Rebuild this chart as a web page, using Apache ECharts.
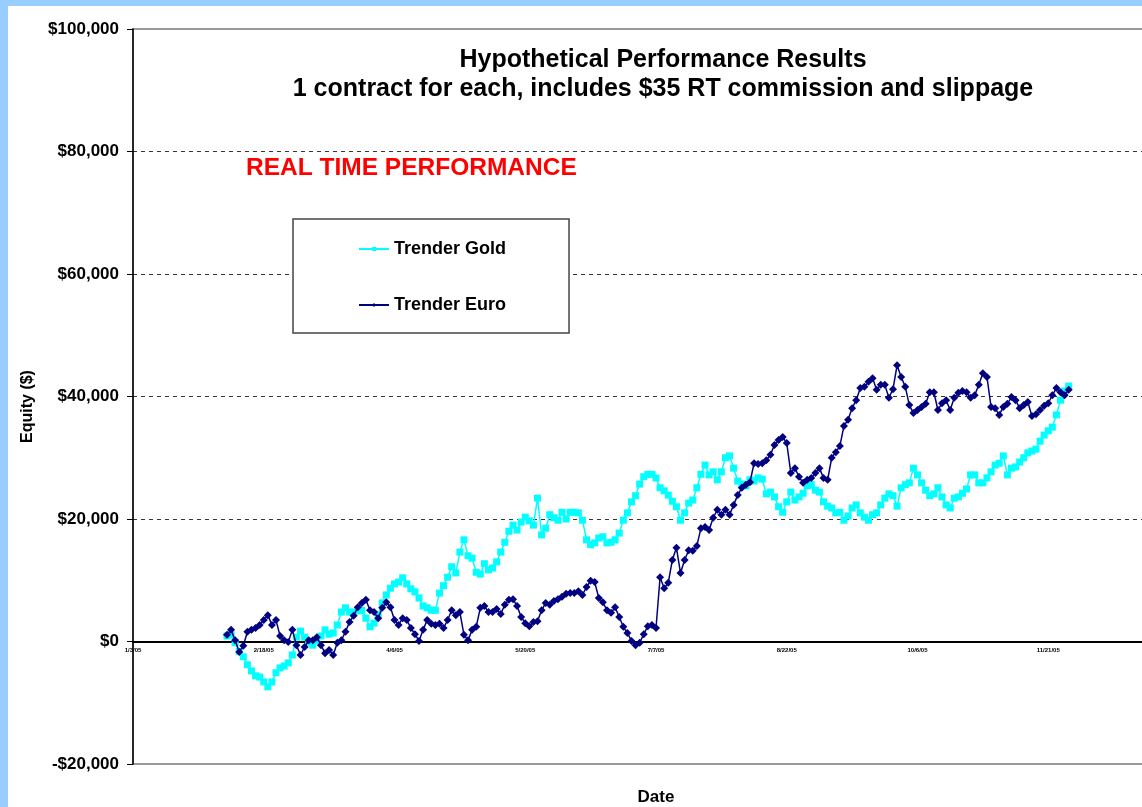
<!DOCTYPE html>
<html>
<head>
<meta charset="utf-8">
<title>Hypothetical Performance Results</title>
<script src="https://cdn.jsdelivr.net/npm/echarts@6/dist/echarts.min.js"></script>
<style>
	html,body{margin:0;padding:0;background:#99ccff;width:1142px;height:807px;overflow:hidden;}
	#equityChart{position:absolute;left:8px;top:6px;width:1134px;height:801px;background:#fff;}
</style>
</head>
<body>
<div id="equityChart"></div>
<script>
	var FONT = "'Liberation Sans', Arial, sans-serif";

	// date ticks along the x axis (one every 32 trading days)
	var dateLabels = ['1/3/05','2/18/05','4/6/05','5/20/05','7/7/05','8/22/05','10/6/05','11/21/05','1/6/06'];
	var daysPerTick = 32;
	var firstDay = 23;

	// equity curves, one value per trading day ($)
	var goldEquity = [
		900,1100,-200,-1600,-2500,-3800,-4800,-5600,-5800,-6600,
		-7400,-6600,-5100,-4300,-4000,-3500,-2200,700,1700,700,
		-100,-600,100,900,1900,1200,1400,2700,4800,5500,
		4800,4800,5000,5100,3800,2400,3000,4300,6300,7600,
		8700,9400,9700,10400,9400,8600,8100,7100,5800,5500,
		5100,5100,7900,9100,10500,12200,11200,14600,16600,14000,
		13600,11300,11000,12700,11700,12000,13000,14600,16200,18000,
		19000,18200,19500,20300,19700,19000,23400,17400,18500,20700,
		20200,19800,21100,20000,21100,21100,21000,19800,16600,15800,
		16100,16900,17100,16100,16200,16600,17700,19800,21000,22800,
		23800,25700,26900,27300,27300,26700,25100,24600,23900,22900,
		22000,19800,21000,22600,23100,25100,27300,28800,27200,27700,
		26400,27700,30000,30300,28300,26200,25700,25400,26400,26200,
		26700,26500,24100,24400,23600,22000,21100,22800,24400,23100,
		23600,24200,25400,25600,24700,24400,22800,22100,21800,21000,
		21100,19800,20500,21800,22300,21000,20300,19800,20700,21000,
		22300,23400,24100,23800,22100,25100,25600,25900,28300,27200,
		25900,24700,23800,24100,25100,23600,22300,21800,23400,23600,
		24200,24900,27200,27200,25900,25900,26700,27700,28800,29100,
		30300,27200,28300,28500,29300,30000,30800,31100,31400,32700,
		33700,34400,35000,37000,39400,40900,41700
	];
	var euroEquity = [
		1100,1900,200,-1700,-700,1600,1900,2200,2700,3500,
		4300,2700,3500,900,200,-100,1900,-600,-2200,-900,
		200,200,700,-600,-1900,-1400,-2200,-200,200,1600,
		3200,4200,5600,6300,6800,5100,4800,3800,5500,6400,
		5600,3500,2700,3800,3500,2200,1200,100,1900,3500,
		2900,2700,2900,2200,3500,5100,4300,4800,1100,200,
		1900,2400,5500,5800,4800,4800,5300,4500,6000,6800,
		6900,5800,4000,3000,2500,3200,3300,5100,6300,6000,
		6600,6900,7300,7800,7900,7900,8200,7600,8900,9900,
		9700,7100,6400,5100,4700,5600,4000,2400,1400,100,
		-600,-200,1200,2500,2700,2200,10500,8700,9600,13300,
		15300,11200,13300,14900,14800,15600,18500,18700,18200,20200,
		21500,20700,21500,20700,22300,23900,25100,25600,26000,29100,
		29000,29100,29600,30500,32100,32900,33400,32400,27500,28300,
		26900,25900,26400,26700,27500,28300,26700,26400,30000,30900,
		31900,35200,36200,38100,39400,41400,41600,42400,43000,41100,
		41900,41900,39800,41200,45100,43200,41600,38600,37300,37800,
		38300,38800,40700,40700,37800,38900,39400,37800,39800,40600,
		40900,40700,39800,40200,41900,43800,43200,38300,38100,37000,
		38300,38800,39900,39400,38100,38600,39100,36800,37100,37800,
		38500,38900,40200,41400,40700,40200,41100
	];

/**
 * 把每日数值配上交易日序号
 */
function toPoints(values){
	var pts = [];
	for(var i = 0; i < values.length; i++){
		pts.push([firstDay + i, values[i]]);
	}
	return pts;
}

function money(v){
	var s = Math.abs(v).toString().replace(/\B(?=(\d{3})+(?!\d))/g, ',');
	return (v < 0 ? '-$' : '$') + s;
}

function drawEquity(){
	var option = {
		animation: false,
		backgroundColor: '#fff',
		textStyle: { fontFamily: FONT },
		graphic: [
			{
				type: 'text', x: 655, y: 54,
				style: { text: 'Hypothetical Performance Results', font: 'bold 25px ' + FONT,
					fill: '#000', textAlign: 'center', textVerticalAlign: 'middle' }
			},
			{
				type: 'text', x: 655, y: 83,
				style: { text: '1 contract for each, includes $35 RT commission and slippage', font: 'bold 25px ' + FONT,
					fill: '#000', textAlign: 'center', textVerticalAlign: 'middle' }
			},
			{
				type: 'text', x: 238, y: 162,
				style: { text: 'REAL TIME PERFORMANCE', font: 'bold 24.5px ' + FONT,
					fill: '#ff0000', textAlign: 'left', textVerticalAlign: 'middle' }
			}
		],
		legend: {
			orient: 'vertical',
			left: 285,
			top: 213,
			padding: [21, 63, 19, 65],
			itemGap: 38,
			itemWidth: 30,
			itemHeight: 5,
			backgroundColor: '#fff',
			borderColor: '#444',
			borderWidth: 1.5,
			textStyle: { fontSize: 18, fontWeight: 'bold', color: '#000', fontFamily: FONT },
			data: ['Trender Gold', 'Trender Euro']
		},
		grid: {
			left: 125,
			top: 23,
			right: -37,
			bottom: 43,
			outerBoundsMode: 'none',
			show: true,
			borderColor: '#999',
			borderWidth: 2
		},
		xAxis: {
			type: 'value',
			min: 0,
			max: daysPerTick * (dateLabels.length - 1),
			interval: daysPerTick,
			name: 'Date',
			nameLocation: 'middle',
			nameGap: 25,
			nameTextStyle: { fontSize: 17, fontWeight: 'bold', color: '#000', fontFamily: FONT },
			axisLine: { onZero: true, lineStyle: { color: '#000', width: 2 } },
			axisTick: { show: false },
			axisLabel: {
				fontSize: 6, fontWeight: 'bold', color: '#000', margin: -117,
				formatter: function(v){ return dateLabels[Math.round(v / daysPerTick)] || ''; }
			},
			splitLine: { show: false }
		},
		yAxis: {
			type: 'value',
			min: -20000,
			max: 100000,
			interval: 20000,
			name: 'Equity ($)',
			nameLocation: 'middle',
			nameGap: 97,
			nameTextStyle: { fontSize: 16, fontWeight: 'bold', color: '#000', fontFamily: FONT, padding: [0, 20, 0, 0] },
			axisLine: { show: true, lineStyle: { color: '#000', width: 1.5 } },
			axisTick: { show: true, length: 6, lineStyle: { color: '#000' } },
			axisLabel: { fontSize: 17, fontWeight: 'bold', color: '#000', margin: 14, formatter: money },
			splitLine: {
				show: true,
				showMinLine: false,
				showMaxLine: false,
				lineStyle: { color: '#333', type: [4, 4], width: 1 }
			}
		},
		series: [
			{
				name: 'Trender Gold',
				type: 'line',
				data: toPoints(goldEquity),
				symbol: 'rect',
				symbolSize: 7,
				color: '#00ffff',
				lineStyle: { color: '#00ffff', width: 1.5 },
				itemStyle: { color: '#00ffff' },
				z: 2
			},
			{
				name: 'Trender Euro',
				type: 'line',
				data: toPoints(euroEquity),
				symbol: 'diamond',
				symbolSize: 8,
				color: '#000080',
				lineStyle: { color: '#000080', width: 1.5 },
				itemStyle: { color: '#000080' },
				z: 3
			}
		]
	};

	var chart = echarts.init(document.getElementById('equityChart'));
	chart.setOption(option);
}

drawEquity();
</script>
</body>
</html>
